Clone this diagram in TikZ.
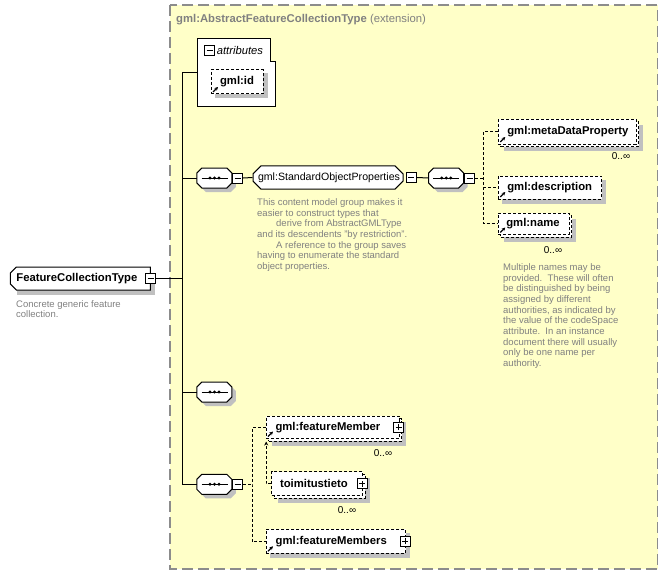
\documentclass[tikz,border=0pt]{standalone}
\usepackage{fontspec}
\setmainfont{Liberation Sans}
\usetikzlibrary{shapes.misc,shadows,arrows.meta,positioning}
\pgfdeclarelayer{panellayer}
\pgfdeclarelayer{shadowlayer}
\pgfsetlayers{panellayer,shadowlayer,main}
\definecolor{panelfill}{HTML}{FFFFC8}
\definecolor{panelline}{HTML}{8C8C8C}
\definecolor{docgray}{HTML}{808080}
\definecolor{shadowgray}{HTML}{C0C0C0}
\newcommand\namefont{\fontsize{11.3}{13}\selectfont\bfseries}
\newcommand\grpfont{\fontsize{10.6}{13}\selectfont}
\newcommand\docfont{\fontsize{9.5}{10.7}\selectfont}
\newcommand\occfont{\fontsize{10}{12}\selectfont}
\tikzset{conn/.style={line width=1pt}}
\tikzset{dconn/.style={line width=1pt, dash pattern=on 3pt off 2pt}}
\tikzset{boxshadow/.style={append after command={\pgfextra{\begin{pgfonlayer}{shadowlayer}
    \fill[shadowgray] ([shift={(#1,#1)}]\tikzlastnode.north west) rectangle ([shift={(#1,#1)}]\tikzlastnode.south east);
    \end{pgfonlayer}}}}, boxshadow/.default=4}
\tikzset{multi/.style={boxshadow=6.5, copy shadow={shadow xshift=2.5pt, shadow yshift=-2.5pt}}}
\tikzset{elem/.style={rectangle, draw, fill=white, line width=1pt, inner ysep=0pt, font=\namefont, align=left}}
\tikzset{optel/.style={elem, dash pattern=on 3pt off 2pt}}
\tikzset{refel/.style={optel, path picture={\draw[solid, line width=1.2pt, -{Stealth[length=3.5pt, width=3.5pt]}] ([shift={(2pt,2pt)}]path picture bounding box.south west) -- ++(5pt,5pt);}}}
\tikzset{seqbox/.style={minimum width=35pt, minimum height=20pt, inner sep=0pt,
  append after command={\pgfextra{
    \fill[shadowgray] ([shift={(4,4)}]\tikzlastnode.west) -- ++(0,-5) -- ++(5,-5) -- ++(25,0) -- ++(5,5) -- ++(0,10) -- ++(-5,5) -- ++(-25,0) -- ++(-5,-5) -- cycle;
    \draw[line width=1pt, fill=white] (\tikzlastnode.west) -- ++(0,-5) -- ++(5,-5) -- ++(25,0) -- ++(5,5) -- ++(0,10) -- ++(-5,5) -- ++(-25,0) -- ++(-5,-5) -- cycle;
    \draw[line width=1pt] ([xshift=-13pt]\tikzlastnode.center) -- ([xshift=13pt]\tikzlastnode.center);
    \foreach \dx in {-4.5,0,4.5} \fill[black] ([xshift=\dx pt]\tikzlastnode.center) circle (1.6pt);}}}}
\tikzset{minusbox/.style={rectangle, draw, fill=white, line width=1pt, minimum size=10pt, inner sep=0pt,
  path picture={\draw[line width=1pt] ([xshift=-3pt]path picture bounding box.center) -- ([xshift=3pt]path picture bounding box.center);}}}
\tikzset{plusbox/.style={rectangle, draw, fill=white, line width=1pt, minimum size=10pt, inner sep=0pt,
  path picture={\draw[line width=1pt] ([xshift=-3pt]path picture bounding box.center) -- ([xshift=3pt]path picture bounding box.center);
    \draw[line width=1pt] ([yshift=-3pt]path picture bounding box.center) -- ([yshift=3pt]path picture bounding box.center);}}}
\tikzset{doc/.style={font=\docfont, text=docgray, align=left, anchor=north west, inner sep=0pt}}
\tikzset{occ/.style={font=\occfont, inner sep=0pt}}

\begin{document}
\begin{tikzpicture}[x=1pt, y=-1pt]
\useasboundingbox (0,0) rectangle (668,575);
% extension panel
\begin{pgfonlayer}{panellayer}
\draw[panelline, fill=panelfill, line width=1.3pt, dash pattern=on 11pt off 5pt] (170,5) rectangle (657.7,569);
\end{pgfonlayer}
\node (title) at (176,22.7)[anchor=base west, inner sep=0pt, text=docgray, font=\fontsize{11.3}{13}\selectfont]{\textbf{gml:AbstractFeatureCollectionType} (extension)};

% attributes
\node (attr) at (236.15,72.5)[minimum width=77.7pt, minimum height=68.4pt, inner sep=0pt]{};
\begin{pgfonlayer}{shadowlayer}
\draw[conn, fill=white] (attr.north west) -- ([xshift=-5pt]attr.north east) -- ([shift={(-5,23)}]attr.north east) -- ([shift={(0,23)}]attr.north east) -- (attr.south east) -- (attr.south west) -- cycle;
\end{pgfonlayer}
\node (attrm) at (209.7,50.4)[minusbox]{};
\node (attrlbl) [right=1.5pt of attrm, inner sep=0pt, font=\fontsize{11.2}{13}\selectfont\itshape]{attributes};
\node (gmlid) at (237,82)[refel, boxshadow, minimum width=52pt, minimum height=24pt, align=center, inner xsep=0pt]{gml:id};

% root
\node (fct) at (80.35,278.5)[elem, boxshadow, chamfered rectangle, chamfered rectangle corners={north west,south west}, chamfered rectangle xsep=3pt, chamfered rectangle ysep=3pt, minimum height=23pt, inner xsep=3pt, text width=128pt]{FeatureCollectionType};
\node (fctm) at (fct.east)[minusbox]{};
\node (fctdoc) at (16,300)[doc]{Concrete generic feature\\collection.};

% sequences
\node (seq1) at (214.5,178)[seqbox]{};
\node (seq1m) [minusbox, right=0pt of seq1]{};
\node (seq3) at (214.5,392)[seqbox]{};
\node (seq4) at (214.5,484.3)[seqbox]{};
\node (seq4m) [minusbox, right=0pt of seq4]{};
\coordinate (spine) at (182.7,278.5);

% standard object properties
\node (sop) at (328,177.5)[elem, font=\grpfont, chamfered rectangle, chamfered rectangle xsep=4pt, chamfered rectangle ysep=4pt, minimum height=23.3pt, inner xsep=1pt, text width=140pt]{gml:StandardObjectProperties};
\node (sopm) [minusbox, right=2pt of sop]{};
\node (sopdoc) at (257,198.3)[doc]{This content model group makes it\\easier to construct types that\\\hspace*{19pt}derive from AbstractGMLType\\and its descendents "by restriction".\\\hspace*{19pt}A reference to the group saves\\having to enumerate the standard\\object properties.};
\node (seq2) at (446.3,178)[seqbox]{};
\node (seq2m) [minusbox, right=0pt of seq2]{};
\coordinate (bus1) at (483.3,178);

\node (md) at (567.15,131.5)[refel, multi, minimum height=25pt, inner xsep=9pt, text width=119.7pt]{gml:metaDataProperty};
\node (mdocc) at (621,156)[occ]{0..∞};
\node (desc) at (550,187.5)[refel, boxshadow, minimum height=23pt, inner xsep=9pt, text width=85.4pt]{gml:description};
\node (name) at (533.65,223.75)[refel, multi, minimum height=21.5pt, inner xsep=8pt, text width=54.7pt]{gml:name};
\node (nameocc) at (553,250.5)[occ]{0..∞};
\node (namedoc) at (503,263.3)[doc]{Multiple names may be\\provided.\ \ These will often\\be distinguished by being\\assigned by different\\authorities, as indicated by\\the value of the codeSpace\\attribute.\ \ In an instance\\document there will usually\\only be one name per\\authority.};

% feature members
\coordinate (bus2) at (252,484.3);
\node (fm) at (332.5,427.25)[refel, multi, minimum height=22.5pt, inner xsep=9.5pt, text width=114pt]{gml:featureMember};
\node (fmp) at ([xshift=-1pt]fm.east)[plusbox]{};
\node (fmocc) at (383,453.3)[occ]{0..∞};
\node (toim) at (317.1,483.6)[optel, multi, minimum height=23.8pt, inner xsep=8.3pt, text width=74.2pt]{toimitustieto};
\node (toimp) at ([xshift=-1pt]toim.east)[plusbox]{};
\node (toimocc) at (347,510)[occ]{0..∞};
\node (fms) at (335.85,541.3)[refel, boxshadow, minimum height=24pt, inner xsep=9.7pt, text width=120.3pt]{gml:featureMembers};
\node (fmsp) at ([xshift=-1pt]fms.east)[plusbox]{};

% connectors
\draw[conn] (fctm.east) -- (spine);
\draw[conn] (attr.west) -| (spine) |- (seq4.west);
\draw[conn] (spine |- seq1.west) -- (seq1.west);
\draw[conn] (spine |- seq3.west) -- (seq3.west);
\draw[conn] (seq1m.east) -- (sop.west);
\draw[conn] (sopm.east) -- (seq2.west);
\draw[dconn] (seq2m.east) -- (bus1);
\draw[dconn] (md.west) -| (bus1) |- (name.west);
\draw[dconn] (bus1 |- desc.west) -- (desc.west);
\draw[dconn] (seq4m.east) -- (bus2);
\draw[dconn] (fm.west) -| (bus2) |- (fms.west);
\draw[dconn, -{Stealth[length=4pt, width=4pt]}] (toim.west) -| ([shift={(0.7,2.5)}]fm.south west);
\end{tikzpicture}
\end{document}
